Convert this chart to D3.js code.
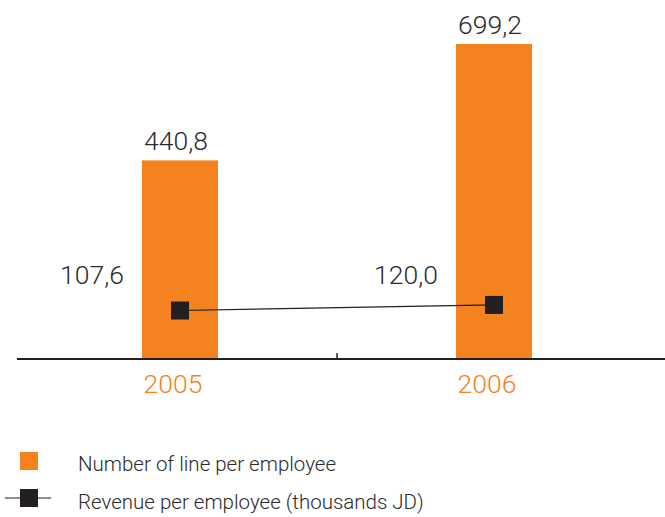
<!DOCTYPE html>
<html lang="en">
<head>
<meta charset="utf-8">
<title>Employee ratios</title>
<script src="https://cdn.jsdelivr.net/npm/d3@7"></script>
<style>
  body { margin: 0; background: #fff; }
  text { font-family: Roboto, "Liberation Sans", sans-serif; font-weight: 300; }
</style>
</head>
<body>
<script>
  var years = ["2005", "2006"];
  var linesPerEmployee = [440.8, 699.2];
  var revenuePerEmployee = [107.6, 120.0];
  var legendLabels = ["Number of line per employee", "Revenue per employee (thousands JD)"];

  var w = 665, h = 517;
  var orange = "#f4821f", dark = "#231f20", textCol = "#2b2b2b";

  var svg = d3.select("body").append("svg").attr("width", w).attr("height", h);

  var x = d3.scaleBand().domain(years).range([23, 651])
            .paddingInner(0.758).paddingOuter(0.379);
  var y = d3.scaleLinear().domain([0, 700]).range([359, 43.6]);

  var fmt = function(v){ return d3.format(".1f")(v).replace(".", ","); };
  var cx = function(i){ return x(years[i]) + x.bandwidth() / 2; };

  // bars
  svg.selectAll("rect.bar").data(linesPerEmployee).enter().append("rect")
    .attr("class", "bar")
    .attr("x", function(d, i){ return x(years[i]); })
    .attr("y", function(d){ return y(d); })
    .attr("width", x.bandwidth())
    .attr("height", function(d){ return y(0) - y(d); })
    .attr("fill", orange);

  svg.selectAll("text.barlab").data(linesPerEmployee).enter().append("text")
    .attr("class", "barlab")
    .attr("x", function(d, i){ return cx(i) - 4; })
    .attr("y", function(d){ return y(d) - 10; })
    .attr("text-anchor", "middle")
    .attr("font-size", "26.5px")
    .attr("fill", textCol)
    .text(fmt);

  // axis
  svg.append("line").attr("x1", 17).attr("x2", w).attr("y1", y(0)).attr("y2", y(0))
    .attr("stroke", dark).attr("stroke-width", 2);
  var mid = (cx(0) + cx(1)) / 2;
  svg.append("line").attr("x1", mid).attr("x2", mid).attr("y1", y(0)).attr("y2", y(0) - 6)
    .attr("stroke", dark).attr("stroke-width", 1.5);

  svg.selectAll("text.year").data(years).enter().append("text")
    .attr("class", "year")
    .attr("x", function(d, i){ return cx(i) - 7; })
    .attr("y", 393)
    .attr("text-anchor", "middle")
    .attr("font-size", "26.5px")
    .attr("fill", orange)
    .text(function(d){ return d; });

  // revenue line
  var line = d3.line().x(function(d, i){ return cx(i); }).y(function(d){ return y(d); });
  svg.append("path").datum(revenuePerEmployee).attr("d", line)
    .attr("fill", "none").attr("stroke", dark).attr("stroke-width", 1.2);

  svg.selectAll("rect.mark").data(revenuePerEmployee).enter().append("rect")
    .attr("class", "mark")
    .attr("x", function(d, i){ return cx(i) - 9; })
    .attr("y", function(d){ return y(d) - 9; })
    .attr("width", 18).attr("height", 18)
    .attr("fill", dark);

  svg.selectAll("text.revlab").data(revenuePerEmployee).enter().append("text")
    .attr("class", "revlab")
    .attr("x", function(d, i){ return cx(i) - 56; })
    .attr("y", 284)
    .attr("text-anchor", "end")
    .attr("font-size", "26.5px")
    .attr("fill", textCol)
    .text(fmt);

  // legend
  svg.append("rect").attr("x", 20).attr("y", 452).attr("width", 18).attr("height", 18).attr("fill", orange);
  svg.append("line").attr("x1", 5).attr("x2", 51).attr("y1", 498).attr("y2", 498)
    .attr("stroke", dark).attr("stroke-width", 1.2);
  svg.append("rect").attr("x", 20).attr("y", 489).attr("width", 18).attr("height", 18).attr("fill", dark);

  svg.selectAll("text.leg").data(legendLabels).enter().append("text")
    .attr("class", "leg")
    .attr("x", 78)
    .attr("y", function(d, i){ return 471 + i * 38; })
    .attr("font-size", "20.5px")
    .attr("fill", textCol)
    .text(function(d){ return d; });
</script>
</body>
</html>
